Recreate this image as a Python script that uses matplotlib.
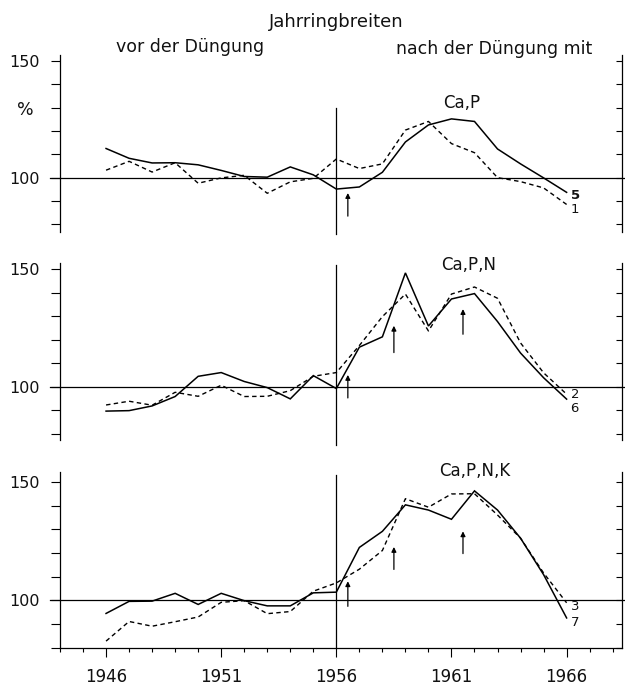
"""
Jahrringbreiten vor und nach der Düngung (Ca,P / Ca,P,N / Ca,P,N,K).
"""
import numpy as np
import matplotlib
matplotlib.use('Agg')
import matplotlib.pyplot as plt
from matplotlib import font_manager

# --- Daten (Prozent) ---
years = np.arange(1946, 1967)

cap_5 = [112.5, 108.3, 106.3, 106.4, 105.5, 103.1, 100.5, 100.2, 104.6, 101.2, 95.1,
         96.0, 102.3, 115.3, 122.6, 125.2, 124.1, 112.3, 105.9, 99.9, 93.7]
cap_1 = [103.2, 107.0, 102.4, 106.4, 97.6, 99.9, 101.0, 93.3, 98.2, 99.7, 108.0,
         103.9, 105.9, 120.4, 124.1, 114.6, 110.7, 100.0, 98.3, 95.6, 88.5]

capn_6 = [89.6, 89.8, 91.8, 95.8, 104.4, 106.0, 102.2, 99.6, 94.8, 104.7, 99.2,
          116.8, 121.2, 148.4, 125.8, 137.3, 139.6, 127.7, 114.3, 103.8, 94.7]
capn_2 = [92.2, 93.8, 92.1, 97.6, 95.9, 100.6, 95.8, 95.9, 98.3, 104.4, 106.0,
          117.5, 129.8, 139.4, 123.7, 139.4, 142.4, 137.6, 118.6, 105.9, 96.8]

capnk_7 = [94.4, 99.5, 99.6, 102.9, 98.2, 102.9, 99.8, 97.6, 97.6, 103.1, 103.4,
           122.3, 129.1, 140.3, 138.1, 134.2, 146.2, 138.1, 126.2, 110.8, 92.5]
capnk_3 = [82.7, 91.0, 89.0, 90.9, 92.9, 99.1, 99.8, 94.3, 95.2, 103.8, 107.3,
           113.1, 121.0, 142.9, 139.3, 144.9, 145.0, 136.0, 126.2, 111.5, 98.9]

panel_titles = ['Ca,P', 'Ca,P,N', 'Ca,P,N,K']
curve_ids = [('5', '1'), ('6', '2'), ('7', '3')]
year_ticks = [1946, 1951, 1956, 1961, 1966]
y_ticks = [80, 90, 100, 110, 120, 130, 140, 150]
fert_year = 1956


def pick_font(name, fallback='DejaVu Sans'):
    try:
        font_manager.findfont(name, fallback_to_default=False)
        return name
    except Exception:
        return fallback


narrow = pick_font('Liberation Sans Narrow')
year_size = 14 if narrow != 'DejaVu Sans' else 12
txt = '#111111'

fig = plt.figure(figsize=(6.25, 6.9), dpi=100)

# Panel-Layout (Figurenanteile, y-Bereich, Lage der Beschriftungen)
layout = [
    dict(rect=[0.096, 0.6638, 0.899, 0.2565], ylim=(76.7, 152.6), vline=(76.0, 130.0),
         title=(1961.45, 132.2), lab=(92.5, 86.5), bold=True,
         arrows=[(1956.5, 83.5, 93.4)]),
    dict(rect=[0.096, 0.3623, 0.899, 0.2565], ylim=(77.3, 152.6), vline=(75.2, 151.8),
         title=(1961.75, 151.6), lab=(90.5, 96.6), bold=False,
         arrows=[(1956.5, 95.2, 105.0), (1958.5, 114.5, 125.9), (1961.5, 122.3, 133.0)]),
    dict(rect=[0.096, 0.0609, 0.899, 0.2551], ylim=(79.8, 154.2), vline=(79.8, 153.0),
         title=(1962.0, 154.4), lab=(90.4, 97.3), bold=False,
         arrows=[(1956.5, 97.4, 108.0), (1958.5, 113.0, 122.5), (1961.5, 119.7, 129.1)]),
]
series = [(cap_5, cap_1), (capn_6, capn_2), (capnk_7, capnk_3)]

for i, (spec, (solid, dashed)) in enumerate(zip(layout, series)):
    ax = fig.add_axes(spec['rect'])
    ax.set_xlim(1944.0, 1968.4)
    ax.set_ylim(*spec['ylim'])
    last = i == len(layout) - 1

    ax.plot(years, solid, color='k', lw=1.1, solid_joinstyle='miter')
    ax.plot(years, dashed, color='k', lw=1.0, linestyle=(0, (3.2, 2.4)))

    # 100%-Linie, bis zum Bildrand
    ax.plot([-0.018, 1.006], [100, 100], color='k', lw=0.9,
            transform=ax.get_yaxis_transform(), clip_on=False)
    # Beginn der Düngung
    ax.plot([fert_year, fert_year], spec['vline'], color='k', lw=0.9, clip_on=False)

    for x, y0, y1 in spec['arrows']:
        ax.annotate('', xy=(x, y1), xytext=(x, y0),
                    arrowprops=dict(arrowstyle='-|>', lw=0.9, color='k',
                                    shrinkA=0, shrinkB=0, mutation_scale=7))

    tx, ty = spec['title']
    ax.text(tx, ty, panel_titles[i], ha='center', va='center', fontsize=12, color=txt)

    sid, did = curve_ids[i]
    ax.text(years[-1] + 0.17, spec['lab'][0], sid, ha='left', va='center', fontsize=9.5,
            family=narrow, color=txt, fontweight='bold' if spec['bold'] else 'normal')
    ax.text(years[-1] + 0.17, spec['lab'][1], did, ha='left', va='center', fontsize=9.5,
            family=narrow, color=txt)

    # Achsen
    ax.spines['top'].set_visible(False)
    ax.spines['right'].set_visible(False)
    ax.spines['left'].set_linewidth(0.9)
    ax.spines['bottom'].set_visible(last)
    ax.spines['bottom'].set_linewidth(0.9)

    ax.set_yticks(y_ticks)
    ax.set_yticklabels(['150' if v == 150 else '100' if v == 100 else '' for v in y_ticks])
    ax.tick_params(axis='y', direction='out', length=6.5, width=0.8, pad=8,
                   labelsize=11.5, labelcolor=txt)

    sec = ax.secondary_yaxis('right')
    sec.set_yticks(y_ticks)
    sec.set_yticklabels([])
    sec.tick_params(direction='in', length=4, width=0.8)
    sec.spines['right'].set_linewidth(0.9)

    if last:
        ax.set_xticks(year_ticks)
        ax.set_xticklabels([str(y) for y in year_ticks], family=narrow,
                           fontsize=year_size, color=txt)
        ax.set_xticks(range(1944, 1969), minor=True)
        ax.tick_params(axis='x', which='major', direction='out', length=6.2, width=0.8, pad=8.5)
        ax.tick_params(axis='x', which='minor', direction='out', length=3.2, width=0.8)
    else:
        ax.tick_params(axis='x', which='both', bottom=False, labelbottom=False)

# Überschriften
fig.text(0.5376, 0.961, 'Jahrringbreiten', ha='center', va='baseline', fontsize=13, color=txt)
fig.text(0.1856, 0.9246, 'vor der Düngung', ha='left', va='baseline', fontsize=12.5, color=txt)
fig.text(0.6336, 0.9217, 'nach der Düngung mit', ha='left', va='baseline', fontsize=12.5,
         color=txt)
fig.text(0.040, 0.8406, '%', ha='center', va='center', fontsize=12.5, color=txt)

fig.savefig('out.png', dpi=100, facecolor='white')
